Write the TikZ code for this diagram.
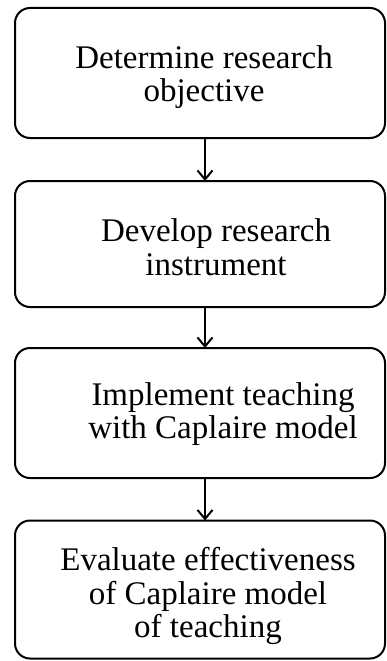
\documentclass[tikz,border=0pt]{standalone}
\usepackage{fontspec}
\setmainfont{Liberation Serif}
\usetikzlibrary{arrows.meta}
\begin{document}
\begin{tikzpicture}[x=1pt,y=-1pt,
  box/.style={draw=black, line width=2pt, rounded corners=15pt, minimum width=370pt, inner sep=0pt, outer sep=0pt},
  lbl/.style={align=center, inner sep=0pt, font=\fontsize{33}{33.5}\selectfont},
  conn/.style={line width=2pt, -{Straight Barb[length=9pt,width=15pt,line width=2pt]}}]
\useasboundingbox (0,0) rectangle (387,661);
\node[box, minimum height=130pt] (b1) at (200,73) {};
\node[box, minimum height=126pt] (b2) at (200,244) {};
\node[box, minimum height=130pt] (b3) at (200,413) {};
\node[box, minimum height=138pt] (b4) at (200,589.5) {};
\node[lbl] (t1) at (204,77) {Determine research\\objective};
\node[lbl] (t2) at (216,247) {Develop research\\instrument};
\node[lbl] (t3) at (223,414) {Implement teaching\\with Caplaire model};
\node[lbl] (t4) at (208,596) {Evaluate effectiveness\\of Caplaire model\\of teaching};
\draw[conn] ([xshift=5pt]b1.south) -- ([xshift=5pt]b2.north);
\draw[conn] ([xshift=5pt]b2.south) -- ([xshift=5pt]b3.north);
\draw[conn] ([xshift=5pt]b3.south) -- ([xshift=5pt]b4.north);
\end{tikzpicture}
\end{document}
